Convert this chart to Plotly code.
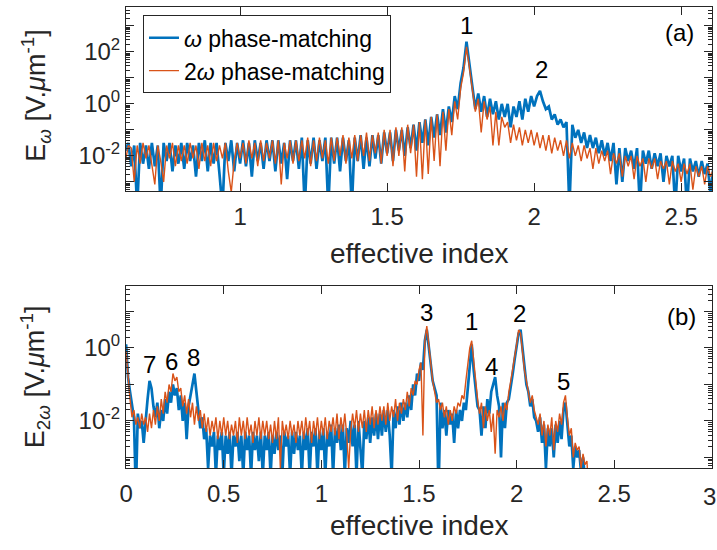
import plotly.graph_objects as go

# ---------------- data (values are log10(E) x 10) ----------------
TOP_X0, TOP_STEP = 0.61, 0.01      # sampling grid of panel (a)
BOT_X0, BOT_STEP = 0.00, 0.01      # sampling grid of panel (b)

blue_top = [
    -18, -15, -24, -16, -40, -15, -23, -16, -25, -15,
    -24, -16, -40, -15, -22, -15, -26, -16, -23, -15,
    -25, -15, -22, -16, -28, -15, -22, -14, -26, -15,
    -23, -15, -27, -40, -15, -22, -14, -26, -15, -23,
    -14, -24, -15, -28, -14, -22, -15, -25, -14, -22,
    -14, -26, -14, -23, -15, -29, -14, -22, -14, -25,
    -13, -40, -14, -23, -13, -25, -14, -22, -13, -40,
    -13, -23, -13, -26, -13, -22, -14, -40, -13, -22,
    -12, -25, -13, -24, -12, -21, -12, -23, -11, -19,
    -11, -22, -10, -18, -10, -20, -9, -17, -8, -18,
    -7, -15, -6, -16, -5, -13, -4, -12, -2, -11,
    -1, -7, 3, -2, 8, 14, 24, 15, 7, -2,
    4, -3, 3, -5, 2, -4, 1, -6, 0, -5,
    0, -9, -1, -5, 1, -6, 2, -3, 3, -1,
    3, 5, 1, -2, -1, -6, -4, -8, -6, -9,
    -7, -40, -8, -13, -10, -15, -11, -17, -12, -17,
    -13, -19, -14, -20, -15, -22, -15, -31, -17, -30,
    -17, -22, -18, -25, -17, -40, -18, -23, -18, -25,
    -19, -24, -19, -30, -20, -24, -20, -40, -20, -26,
    -21, -40, -21, -26, -22, -28, -22, -27, -23, -35, -24,
]

orange_top = [
    -22, -16, -17, -30, -16, -23, -15, -21, -16, -24,
    -31, -16, -22, -30, -16, -21, -15, -24, -16, -22,
    -16, -23, -15, -21, -16, -25, -15, -22, -16, -24,
    -15, -22, -16, -21, -15, -26, -34, -22, -15, -21,
    -15, -23, -14, -21, -15, -24, -14, -22, -15, -21,
    -14, -23, -14, -31, -15, -21, -14, -23, -14, -22,
    -14, -21, -13, -24, -14, -22, -13, -21, -14, -23,
    -13, -22, -13, -20, -12, -23, -13, -21, -12, -22,
    -12, -20, -11, -22, -12, -19, -11, -23, -10, -20,
    -10, -24, -9, -20, -9, -26, -8, -19, -8, -28,
    -7, -29, -6, -27, -5, -22, -4, -24, -3, -18,
    -2, -12, 1, -6, 6, 12, 22, 14, 6, -3,
    2, -11, 1, -6, -1, -16, -3, -16, -5, -9,
    -7, -15, -8, -14, -9, -16, -10, -15, -10, -16,
    -11, -17, -12, -18, -12, -19, -13, -18, -14, -20,
    -14, -21, -15, -20, -16, -22, -16, -21, -17, -25,
    -17, -23, -18, -22, -18, -27, -19, -23, -19, -28,
    -20, -24, -20, -29, -20, -24, -21, -30, -21, -25,
    -21, -29, -22, -25, -22, -31, -22, -26, -23, -30,
    -23, -27, -23, -33, -24, -28, -24, -31, -24, -28, -25,
]

blue_bot = [
    1, -8, -12, -16, -19, -40, -18, -22, -20, -26,
    -19, -14, -9, -11, -16, -19, -15, -22, -17, -20,
    -14, -18, -12, -15, -10, -13, -11, -17, -13, -20,
    -15, -25, -16, -13, -9, -7, -12, -18, -22, -19,
    -25, -22, -33, -24, -27, -23, -35, -24, -28, -23,
    -35, -24, -29, -23, -35, -24, -27, -23, -31, -24,
    -35, -23, -28, -24, -35, -23, -28, -24, -31, -23,
    -35, -24, -28, -23, -35, -24, -29, -23, -28, -24,
    -35, -23, -27, -24, -35, -23, -29, -23, -28, -24,
    -35, -23, -28, -22, -35, -23, -27, -22, -35, -23,
    -28, -22, -35, -23, -27, -21, -35, -22, -26, -21,
    -28, -21, -35, -22, -26, -20, -27, -21, -35, -20,
    -26, -35, -20, -25, -19, -26, -19, -24, -18, -25,
    -18, -24, -17, -23, -17, -24, -35, -17, -22, -16,
    -21, -15, -20, -15, -19, -13, -17, -10, -13, -7,
    -9, -4, -6, 2, 5, 0, -5, -9, -11, -13,
    -40, -15, -22, -17, -24, -17, -21, -18, -26, -17,
    -22, -17, -20, -15, -17, -11, -5, 1, -6, -12,
    -16, -17, -24, -16, -22, -14, -18, -12, -10, -8,
    -13, -16, -30, -15, -22, -15, -14, -11, -7, -3,
    0, 4, 5, -1, -5, -10, -12, -16, -14, -19,
    -20, -23, -19, -26, -21, -33, -22, -27, -22, -30,
    -21, -26, -20, -25, -17, -15, -21, -27, -24, -33,
    -27, -30, -28, -34, -30, -36, -34, -40, -40, -40,
    -40,
]

orange_bot = [
    -1, -9, -14, -19, -17, -21, -19, -22, -18, -21,
    -19, -23, -18, -22, -17, -21, -16, -20, -14, -18,
    -12, -15, -10, -12, -7, -9, -8, -12, -11, -16,
    -13, -18, -14, -19, -15, -21, -16, -20, -17, -22,
    -18, -23, -19, -24, -20, -23, -19, -25, -20, -24,
    -19, -24, -20, -25, -21, -24, -20, -26, -19, -24,
    -20, -25, -19, -24, -21, -26, -20, -24, -19, -25,
    -20, -24, -20, -25, -21, -26, -20, -25, -19, -33,
    -20, -24, -21, -25, -20, -24, -21, -26, -20, -24,
    -20, -25, -19, -24, -20, -26, -20, -24, -19, -25,
    -20, -24, -19, -25, -20, -23, -19, -24, -18, -25,
    -19, -23, -18, -24, -33, -23, -18, -22, -17, -23,
    -18, -22, -17, -23, -17, -21, -16, -22, -17, -21,
    -16, -20, -16, -21, -15, -20, -16, -19, -14, -20,
    -15, -18, -14, -17, -12, -16, -11, -13, -9, -10,
    -6, -4, -24, 2, 6, 1, -4, -9, -12, -15,
    -14, -17, -15, -19, -16, -21, -17, -20, -16, -18,
    -15, -16, -13, -14, -9, -5, 0, 2, -4, -10,
    -14, -18, -15, -22, -16, -20, -17, -23, -18, -29,
    -17, -19, -16, -20, -15, -17, -12, -9, -6, -2,
    1, 5, 4, -1, -6, -9, -12, -15, -13, -17,
    -19, -21, -18, -24, -20, -27, -21, -24, -19, -28,
    -20, -23, -18, -21, -15, -13, -19, -24, -22, -30,
    -26, -28, -27, -33, -29, -32, -31, -40, -40, -40,
    -40,
]

series_names = ["<i>ω</i> phase-matching", "2<i>ω</i> phase-matching"]

top_xticks = [1, 1.5, 2, 2.5]
top_xlabels = ["1", "1.5", "2", "2.5"]
bot_xticks = [0, 0.5, 1, 1.5, 2, 2.5, 3]
bot_xlabels = ["0", "0.5", "1", "1.5", "2", "2.5", "3"]
top_ydecades = [-3, -2, -1, 0, 1, 2, 3]
top_ylabeled = [-2, 0, 2]
bot_ydecades = [-3, -2, -1, 0, 1]
bot_ylabeled = [-2, 0]

# peak labels: (text, x, log10 y)
top_peaks = [("1", 1.77, 3.0), ("2", 2.024, 1.33)]
bot_peaks = [("3", 1.536, 0.96), ("1", 1.77, 0.72), ("4", 1.872, -0.52),
             ("2", 2.017, 0.94), ("5", 2.24, -0.93), ("7", 0.122, -0.45),
             ("6", 0.235, -0.36), ("8", 0.345, -0.27)]

# ---------------- figure ----------------
FONT = "Liberation Sans, Arial, Helvetica, sans-serif"
AXC = "#262626"
BLUE = "#0072BD"
ORANGE = "#D95319"


def grid(x0, step, n):
    return [round(x0 + step * i, 4) for i in range(n)]


def lin(vals):
    return [10 ** (v / 10.0) for v in vals]


x_top = grid(TOP_X0, TOP_STEP, len(blue_top))
x_bot = grid(BOT_X0, BOT_STEP, len(blue_bot))

fig = go.Figure()
fig.add_trace(go.Scatter(x=x_top, y=lin(blue_top), mode="lines", name=series_names[0],
                         line=dict(color=BLUE, width=2.7), xaxis="x", yaxis="y"))
fig.add_trace(go.Scatter(x=x_top, y=lin(orange_top), mode="lines", name=series_names[1],
                         line=dict(color=ORANGE, width=1.4), xaxis="x", yaxis="y"))
fig.add_trace(go.Scatter(x=x_bot, y=lin(blue_bot), mode="lines", showlegend=False,
                         line=dict(color=BLUE, width=2.7), xaxis="x2", yaxis="y2"))
fig.add_trace(go.Scatter(x=x_bot, y=lin(orange_bot), mode="lines", showlegend=False,
                         line=dict(color=ORANGE, width=1.4), xaxis="x2", yaxis="y2"))


def minor_vals(decades):
    out = []
    for k in range(min(decades) - 1, max(decades) + 2):
        for m in range(2, 10):
            out.append(m * 10.0 ** k)
    return out


def ylabels(decades, labeled):
    return [("10<sup>%d</sup>" % d) if d in labeled else "" for d in decades]


common = dict(showline=True, linecolor=AXC, linewidth=1, mirror="allticks",
              ticks="inside", ticklen=8, tickwidth=1, tickcolor=AXC,
              showgrid=False, zeroline=False, automargin=False,
              tickfont=dict(family=FONT, size=24, color=AXC))

# the last bottom tick label sits on the right page edge; it is drawn as an annotation
bot_ticktext_axis = bot_xlabels[:-1] + [""]

fig.update_layout(
    width=717, height=550, autosize=False,
    margin=dict(l=126, r=5, t=7, b=82),
    paper_bgcolor="white", plot_bgcolor="white",
    font=dict(family=FONT, color=AXC),
    xaxis=dict(domain=[0, 1], anchor="y", range=[0.612, 2.605], ticklabelstandoff=4,
               tickmode="array", tickvals=top_xticks, ticktext=top_xlabels, **common),
    yaxis=dict(domain=[0.601, 1], anchor="x", type="log", range=[-3.35, 3.73],
               tickmode="array", tickvals=[10.0 ** d for d in top_ydecades],
               ticktext=ylabels(top_ydecades, top_ylabeled),
               minor=dict(tickmode="array", tickvals=minor_vals(top_ydecades),
                          ticks="inside", ticklen=4, tickcolor=AXC),
               **common),
    xaxis2=dict(domain=[0, 1], anchor="y2", range=[-0.0005, 3.0005], ticklabelstandoff=4,
                tickmode="array", tickvals=bot_xticks, ticktext=bot_ticktext_axis,
                **common),
    yaxis2=dict(domain=[0, 0.3948], anchor="x2", type="log", range=[-3.29, 1.70],
                tickmode="array", tickvals=[10.0 ** d for d in bot_ydecades],
                ticktext=ylabels(bot_ydecades, bot_ylabeled),
                minor=dict(tickmode="array", tickvals=minor_vals(bot_ydecades),
                           ticks="inside", ticklen=4, tickcolor=AXC),
                **common),
    legend=dict(x=0.029, y=0.982, xanchor="left", yanchor="top",
                bgcolor="white", bordercolor=AXC, borderwidth=1,
                font=dict(family=FONT, size=23, color="black"),
                tracegroupgap=0),
    showlegend=True,
)

ann = []
for t, x, y in top_peaks:
    ann.append(dict(text=t, x=x, y=y, xref="x", yref="y", showarrow=False,
                    xanchor="center", yanchor="middle",
                    font=dict(family=FONT, size=24, color="black")))
for t, x, y in bot_peaks:
    ann.append(dict(text=t, x=x, y=y, xref="x2", yref="y2", showarrow=False,
                    xanchor="center", yanchor="middle",
                    font=dict(family=FONT, size=24, color="black")))


def pann(text, x, y, size, angle=0, color=AXC):
    return dict(text=text, x=x, y=y, xref="paper", yref="paper", showarrow=False,
                xanchor="center", yanchor="middle", textangle=angle,
                font=dict(family=FONT, size=size, color=color))


ann += [
    dict(text=bot_xlabels[-1], x=bot_xticks[-1], y=-0.062, xref="x2", yref="paper",
         showarrow=False, xanchor="center", yanchor="middle", xshift=-2,
         font=dict(family=FONT, size=24, color=AXC)),
    pann("(a)", 0.944, 0.944, 24, color="black"),
    pann("(b)", 0.948, 0.328, 24, color="black"),
    pann("effective index", 0.5, 0.466, 28),
    pann("effective index", 0.5, -0.125, 28),
    pann("E<sub><i>ω</i></sub> [V.<i>μ</i>m<sup>-1</sup>]", -0.155, 0.808, 27, angle=-90),
    pann("E<sub>2<i>ω</i></sub> [V.<i>μ</i>m<sup>-1</sup>]", -0.155, 0.197, 27, angle=-90),
]
fig.update_layout(annotations=ann)

fig.write_html("out.html", config={"displayModeBar": False},
               post_script="document.body.style.margin='0';document.body.style.overflow='hidden';")
